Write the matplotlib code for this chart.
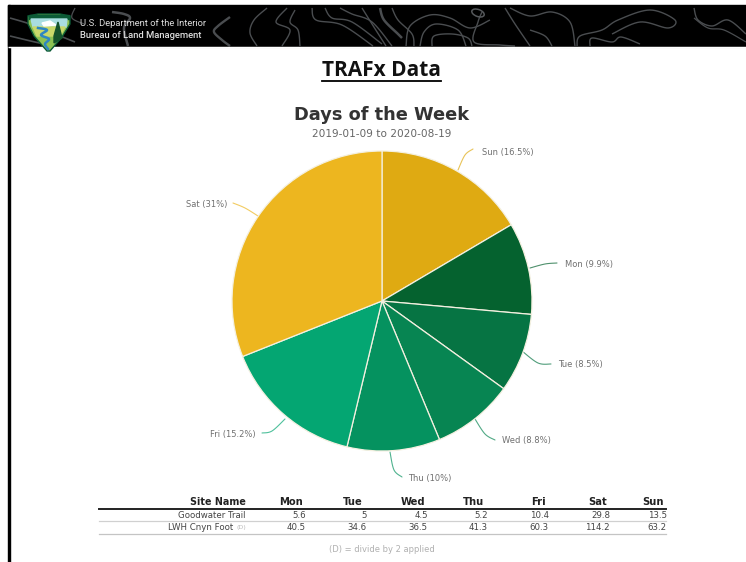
import numpy as np
from matplotlib import pyplot as plt
from matplotlib.patches import Ellipse, Polygon, Rectangle

days = ['Sun', 'Mon', 'Tue', 'Wed', 'Thu', 'Fri', 'Sat']
shares = [16.5, 9.9, 8.5, 8.8, 10, 15.2, 31]
share_labels = ['Sun (16.5%)', 'Mon (9.9%)', 'Tue (8.5%)', 'Wed (8.8%)', 'Thu (10%)', 'Fri (15.2%)', 'Sat (31%)']
colors = ['#DFAA12', '#05622F', '#067443', '#078552', '#05925F', '#04A672', '#EDB61F']

table_cols = ['Mon', 'Tue', 'Wed', 'Thu', 'Fri', 'Sat', 'Sun']
goodwater = ['5.6', '5', '4.5', '5.2', '10.4', '29.8', '13.5']
lwh = ['40.5', '34.6', '36.5', '41.3', '60.3', '114.2', '63.2']

# label anchor, then the leader line end points (pixels)
label_pos = [(482, 152, 'left'), (565, 265, 'left'), (558, 365, 'left'), (502, 441, 'left'),
             (408, 478, 'left'), (256, 435, 'right'), (227, 205, 'right')]
leaders = [[(473, 149), (465, 155), (458, 170)],
           [(557, 263), (545, 264), (530, 268)],
           [(551, 364), (538, 363), (522, 351)],
           [(495, 440), (485, 434), (475, 419)],
           [(402, 477), (394, 470), (390, 452)],
           [(262, 433), (272, 431), (285, 419)],
           [(233, 203), (245, 208), (258, 216)]]

# background contour lines of the banner (pixels), with line width
contours = [
    ([(10, 18), (30, 24), (50, 32), (75, 42)], 1.2),
    ([(10, 36), (35, 42), (55, 46)], 1.2),
    ([(75, 8), (72, 18), (84, 24)], 0.9),
    ([(112, 12), (124, 14), (130, 18), (124, 28), (128, 46)], 1.8),
    ([(230, 17), (218, 26), (214, 32), (222, 40), (230, 46)], 1.7),
    ([(267, 8), (254, 20), (250, 33), (257, 46)], 1.0),
    ([(287, 8), (276, 22), (290, 30), (282, 46)], 1.0),
    ([(295, 10), (290, 22), (298, 30), (300, 46)], 1.0),
    ([(312, 8), (316, 20), (342, 25), (373, 46)], 1.0),
    ([(325, 8), (332, 18), (352, 22), (382, 44)], 1.0),
    ([(340, 8), (352, 14), (372, 22), (392, 46)], 1.0),
    ([(362, 8), (372, 24), (386, 46)], 1.0),
    ([(380, 8), (384, 20), (398, 34), (402, 38)], 1.8),
    ([(392, 8), (398, 20), (412, 34), (414, 46)], 1.0),
    ([(406, 46), (410, 26), (430, 15), (450, 18), (470, 28), (490, 20)], 1.0),
    ([(420, 46), (424, 32), (436, 24), (458, 30), (466, 46)], 1.0),
    ([(432, 46), (434, 36), (452, 34), (468, 38), (472, 46)], 1.0),
    ([(482, 12), (478, 22), (474, 42), (500, 45), (515, 46)], 1.0),
    ([(505, 8), (515, 24), (530, 46)], 1.0),
    ([(510, 8), (530, 16), (552, 12), (570, 22), (575, 46)], 1.0),
    ([(530, 30), (545, 36), (552, 46)], 1.0),
    ([(577, 46), (580, 36), (602, 30), (618, 20), (650, 10), (675, 20), (668, 28), (640, 22), (612, 34)], 1.0),
    ([(590, 46), (592, 38), (612, 42), (621, 37), (640, 44)], 1.0),
    ([(694, 8), (698, 20), (712, 26), (728, 20), (746, 34)], 1.0),
    ([(694, 18), (708, 28), (724, 30), (746, 42)], 0.9),
]


def smooth(points, steps=12):
    # Catmull-Rom through the given points
    pts = np.array([points[0]] + list(points) + [points[-1]], dtype=float)
    out = []
    for i in range(1, len(pts) - 2):
        p0, p1, p2, p3 = pts[i - 1], pts[i], pts[i + 1], pts[i + 2]
        for t in np.linspace(0, 1, steps):
            out.append(0.5 * (2 * p1 + (p2 - p0) * t + (2 * p0 - 5 * p1 + 4 * p2 - p3) * t ** 2
                              + (3 * p1 - p0 - 3 * p2 + p3) * t ** 3))
    out = np.array(out)
    return out[:, 0], out[:, 1]


fig = plt.figure(figsize=(7.46, 5.62), dpi=100)

# page overlay in pixel coordinates
page = fig.add_axes([0, 0, 1, 1])
page.set_xlim(0, 746)
page.set_ylim(562, 0)
page.axis('off')

page.add_patch(Rectangle((8, 5), 2.2, 557, color='black', zorder=1))
page.add_patch(Rectangle((8, 5), 738, 41, color='black', zorder=1))
page.plot([10, 746], [46.5, 46.5], color='#c8c8c8', lw=0.8, zorder=1)
for c, w in contours:
    xs, ys = smooth(c)
    page.plot(xs, ys, color='#4a4d50', lw=w, solid_capstyle='butt', zorder=2)
page.add_patch(Ellipse((478, 13), 13, 7, angle=20, fill=False, edgecolor='#55585b', lw=1.1, zorder=2))
page.add_patch(Rectangle((8, 46.9), 738, 0.1, color='white', zorder=2))

# BLM shield
page.add_patch(Polygon([(28, 16), (38, 14), (60, 14), (70, 16), (70, 24), (62, 37), (50, 51), (47, 51), (34, 36), (28, 24)],
                       closed=True, facecolor='#8CC152', edgecolor='#0B5A36', lw=1, zorder=3))
page.add_patch(Polygon([(29, 15), (69, 15), (69, 19), (29, 19)], closed=True, color='#0B5A36', zorder=4))
page.add_patch(Polygon([(31, 19), (67, 19), (66, 27), (33, 27)], closed=True, color='#A9DDE0', zorder=4))
page.add_patch(Polygon([(42, 23), (50, 21), (56, 25), (44, 26)], closed=True, color='white', zorder=5))
page.add_patch(Polygon([(33, 27), (65, 27), (60, 36), (37, 36)], closed=True, color='#C9D86A', zorder=4))
page.plot(*smooth([(38, 28), (47, 30), (41, 35), (49, 39), (45, 44), (48, 49)]), color='#2E86C1', lw=1.8, zorder=5)
page.add_patch(Polygon([(58, 22), (62, 38), (54, 43), (54, 36)], closed=True, color='#14522B', zorder=5))

page.text(80, 23.5, 'U.S. Department of the Interior', color='#dddddd', fontsize=6.75,
          family='Roboto', ha='left', va='center', zorder=6)
page.text(80, 36, 'Bureau of Land Management', color='#dddddd', fontsize=6.75,
          family='Roboto', weight='medium', ha='left', va='center', zorder=6)

page.text(381.5, 71, 'TRAFx Data', color='#111111', fontsize=15, family='Open Sans',
          weight='bold', ha='center', va='center')
page.plot([322, 441], [81, 81], color='black', lw=1.3)

page.text(382, 114.5, 'Days of the Week', color='#333333', fontsize=12.8, family='DejaVu Sans',
          weight='bold', ha='center', va='center')
page.text(382, 134, '2019-01-09 to 2020-08-19', color='#666666', fontsize=7.6,
          ha='center', va='center')

# pie
cx, cy, r = 382, 301, 150
pie_ax = fig.add_axes([(cx - r) / 746, 1 - (cy + r) / 562, 2 * r / 746, 2 * r / 562])
pie_ax.pie(shares, colors=colors, startangle=90, counterclock=False, radius=1,
           wedgeprops={'edgecolor': '#f4f0e0', 'linewidth': 0.9})
pie_ax.set_xlim(-1, 1)
pie_ax.set_ylim(-1, 1)
pie_ax.axis('off')

for name, pos, line, col in zip(share_labels, label_pos, leaders, colors):
    page.plot(*smooth(line), color=col, lw=0.8, alpha=0.7, solid_capstyle='round', zorder=3)
    page.text(pos[0], pos[1], name, color='#707070', fontsize=6.0, ha=pos[2], va='center')

# table
col_right = [303, 363, 425, 484, 546, 607, 664]
val_right = [306, 367, 428, 488, 549, 610, 667]
page.text(246, 502, 'Site Name', color='#222222', fontsize=6.9, weight='bold', ha='right', va='center')
for name, x in zip(table_cols, col_right):
    page.text(x, 502, name, color='#222222', fontsize=7.2, weight='bold', ha='right', va='center')
page.plot([99, 666], [508.5, 508.5], color='#222222', lw=1.4)
page.plot([99, 666], [521, 521], color='#d0d0d0', lw=0.9)
page.plot([99, 666], [534, 534], color='#c4c4c4', lw=0.9)

page.text(246, 515, 'Goodwater Trail', color='#444444', fontsize=6.2, ha='right', va='center')
page.text(233, 527, 'LWH Cnyn Foot', color='#444444', fontsize=6.2, ha='right', va='center')
page.text(246, 527, '(D)', color='#bbbbbb', fontsize=4.6, ha='right', va='center')
for a, b, x in zip(goodwater, lwh, val_right):
    page.text(x, 515, a, color='#444444', fontsize=6.2, ha='right', va='center')
    page.text(x, 527, b, color='#444444', fontsize=6.2, ha='right', va='center')

page.text(382, 549, '(D) = divide by 2 applied', color='#b0b0b0', fontsize=6.0, ha='center', va='center')

fig.savefig('out.png', dpi=100)
